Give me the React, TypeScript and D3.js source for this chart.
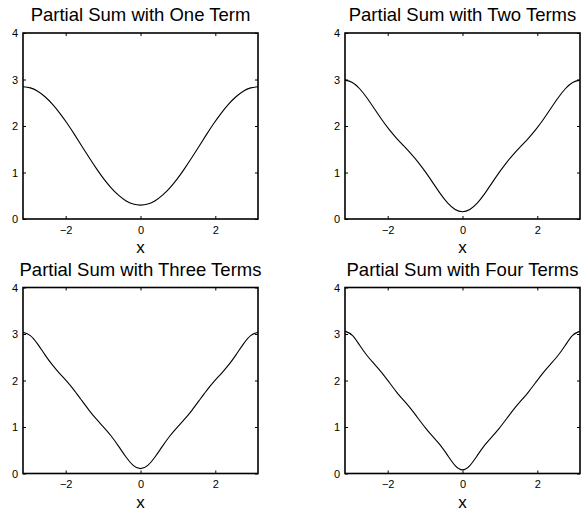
import React, { useRef, useEffect } from "react"
import * as d3 from "d3"

const width = 582
const height = 511

// sample positions, k*pi/16 for k = -16..16
const xs = [
  -3.142, -2.945, -2.749, -2.553, -2.356, -2.160, -1.963, -1.767, -1.571,
  -1.374, -1.178, -0.982, -0.785, -0.589, -0.393, -0.196, 0,
  0.196, 0.393, 0.589, 0.785, 0.982, 1.178, 1.374, 1.571,
  1.767, 1.963, 2.160, 2.356, 2.553, 2.749, 2.945, 3.142,
]

const oneTerm = [
  2.844, 2.820, 2.747, 2.629, 2.471, 2.278, 2.058, 1.819, 1.571,
  1.322, 1.084, 0.863, 0.670, 0.512, 0.394, 0.322, 0.298,
  0.322, 0.394, 0.512, 0.670, 0.863, 1.084, 1.322, 1.571,
  1.819, 2.058, 2.278, 2.471, 2.629, 2.747, 2.820, 2.844,
]

const twoTerms = [
  2.986, 2.937, 2.801, 2.602, 2.371, 2.139, 1.927, 1.741, 1.571,
  1.401, 1.214, 1.002, 0.771, 0.540, 0.340, 0.204, 0.156,
  0.204, 0.340, 0.540, 0.771, 1.002, 1.214, 1.401, 1.571,
  1.741, 1.927, 2.139, 2.371, 2.602, 2.801, 2.937, 2.986,
]

const threeTerms = [
  3.036, 2.965, 2.782, 2.552, 2.335, 2.149, 1.974, 1.783, 1.571,
  1.359, 1.167, 0.992, 0.807, 0.590, 0.360, 0.176, 0.105,
  0.176, 0.360, 0.590, 0.807, 0.992, 1.167, 1.359, 1.571,
  1.783, 1.974, 2.149, 2.335, 2.552, 2.782, 2.965, 3.036,
]

const fourTerms = [
  3.062, 2.971, 2.758, 2.537, 2.353, 2.171, 1.964, 1.757, 1.571,
  1.384, 1.177, 0.971, 0.788, 0.604, 0.384, 0.171, 0.079,
  0.171, 0.384, 0.604, 0.788, 0.971, 1.177, 1.384, 1.571,
  1.757, 1.964, 2.171, 2.353, 2.537, 2.758, 2.971, 3.062,
]

const titles = [
  "Partial Sum with One Term",
  "Partial Sum with Two Terms",
  "Partial Sum with Three Terms",
  "Partial Sum with Four Terms",
]
const xTicks = [-2, 0, 2]
const yTicks = [0, 1, 2, 3, 4]

// panel boxes: left, top
const panels = [
  { left: 23, top: 33, ys: oneTerm },
  { left: 345, top: 33, ys: twoTerms },
  { left: 23, top: 287.5, ys: threeTerms },
  { left: 345, top: 287.5, ys: fourTerms },
]
const boxW = 235
const boxH = 186
const font = "Liberation Sans, Arial, Helvetica, sans-serif"

const App = () => {
  const ref = useRef(null)

  useEffect(() => {
    const svg = d3.select(ref.current)
    svg.selectAll("*").remove()

    const x = d3.scaleLinear().domain([-Math.PI, Math.PI]).range([0, boxW])
    const y = d3.scaleLinear().domain([0, 4]).range([boxH, 0])
    const fmt = (d: number) => (d < 0 ? "\u2212" + Math.abs(d) : String(d))

    panels.forEach((p, i) => {
      const g = svg.append("g").attr("transform", `translate(${p.left},${p.top})`)

      const line = d3
        .line<number>()
        .x((_, j) => x(xs[j]))
        .y(d => y(d))
        .curve(d3.curveNatural)

      g.append("path")
        .datum(p.ys)
        .attr("d", line)
        .attr("fill", "none")
        .attr("stroke", "#000")
        .attr("stroke-width", 1.1)

      const bottom = g
        .append("g")
        .attr("transform", `translate(0,${boxH})`)
        .call(d3.axisBottom(x).tickValues(xTicks).tickSizeInner(-3).tickSizeOuter(0).tickPadding(7).tickFormat(fmt))
      const top = g
        .append("g")
        .call(d3.axisTop(x).tickValues(xTicks).tickSizeInner(-3).tickSizeOuter(0).tickFormat(() => ""))
      const left = g
        .append("g")
        .call(d3.axisLeft(y).tickValues(yTicks).tickSizeInner(-3).tickSizeOuter(0).tickPadding(5).tickFormat(fmt))
      const right = g
        .append("g")
        .attr("transform", `translate(${boxW},0)`)
        .call(d3.axisRight(y).tickValues(yTicks).tickSizeInner(-3).tickSizeOuter(0).tickFormat(() => ""))

      ;[bottom, top, left, right].forEach(a => {
        a.select(".domain").remove()
        a.selectAll("line").attr("stroke", "#000")
        a.selectAll("text").attr("fill", "#000").attr("font-family", font).attr("font-size", 11)
      })

      g.append("rect")
        .attr("width", boxW)
        .attr("height", boxH)
        .attr("fill", "none")
        .attr("stroke", "#000")
        .attr("stroke-width", 1.6)

      g.append("text")
        .attr("x", boxW / 2)
        .attr("y", -12)
        .attr("text-anchor", "middle")
        .attr("font-family", font)
        .attr("font-size", 18.5)
        .text(titles[i])

      g.append("text")
        .attr("x", boxW / 2)
        .attr("y", boxH + 34)
        .attr("text-anchor", "middle")
        .attr("font-family", font)
        .attr("font-size", 17)
        .text("x")
    })
  }, [])

  return (
    <svg
      ref={ref}
      width={width}
      height={height}
      style={{ position: "absolute", left: 0, top: 0, background: "#fff" }}
    />
  )
}

export default App
